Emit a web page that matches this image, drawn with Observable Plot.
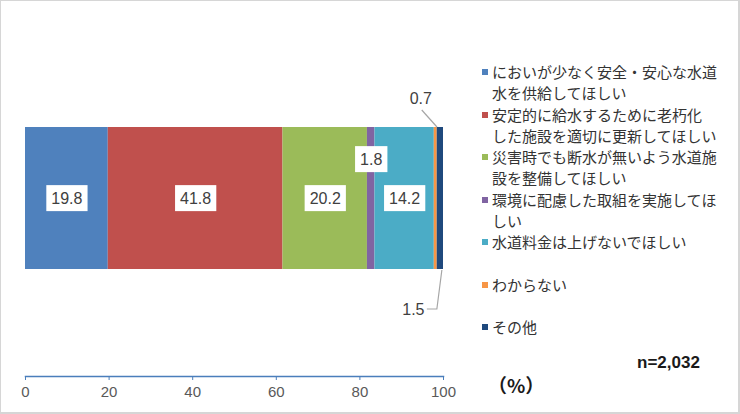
<!DOCTYPE html>
<html>
<head>
<meta charset="utf-8">
<script src="https://cdn.jsdelivr.net/npm/d3@7"></script>
<script src="https://cdn.jsdelivr.net/npm/@observablehq/plot@0.6"></script>
<style>
  body { margin: 0; background: #fff; }
  #wrap { position: relative; width: 740px; height: 414px; overflow: hidden; background: #fff;
          font-family: "Noto Sans CJK JP", sans-serif; }
  #frame { position: absolute; left: 0; top: 0; width: 740px; height: 414px; box-sizing: border-box;
           border: 1px solid #d6d6d6; border-right-width: 2px; border-bottom-width: 2px; pointer-events: none; }
  #legend { position: absolute; left: 482px; top: 61px; }
  .item { display: flex; align-items: flex-start; height: 42.5px; }
  .sw { width: 6px; height: 6px; margin-top: 8px; margin-right: 4px; flex: none; }
  .lab { font-size: 15px; line-height: 21px; color: #333333; white-space: pre; }
  #n { position: absolute; left: 637px; top: 353px; font: bold 17px "Liberation Sans", sans-serif; color: #1a1a1a; }
  #unit { position: absolute; left: 488px; top: 371px; font: bold 19px "Noto Sans CJK JP", sans-serif; color: #1a1a1a; }
</style>
</head>
<body>
<div id="wrap">
  <div id="chart"></div>
  <div id="legend"></div>
  <div id="n"></div>
  <div id="unit"></div>
  <div id="frame"></div>
</div>
<script>
// ---- data ----
const categories = [
  "においが少なく安全・安心な水道水を供給してほしい",
  "安定的に給水するために老朽化した施設を適切に更新してほしい",
  "災害時でも断水が無いよう水道施設を整備してほしい",
  "環境に配慮した取組を実施してほしい",
  "水道料金は上げないでほしい",
  "わからない",
  "その他"
];
const values = [19.8, 41.8, 20.2, 1.8, 14.2, 0.7, 1.5];
const xTicks = [0, 20, 40, 60, 80, 100];
const sampleNote = "n=2,032";
const unitNote = "（%）";

// ---- styling / layout (not data) ----
const colors = ["#4f81bd", "#c0504d", "#9bbb59", "#8064a2", "#4bacc6", "#f79646", "#1f497d"];
const legendBreaks = [15, 14, 15, 15, null, null, null]; // legend line-wrap positions
const numFont = "'Liberation Sans', sans-serif";

const starts = values.map((v, i) => d3.sum(values.slice(0, i)));
const rows = categories.map((c, i) => ({
  category: c, value: values[i], start: starts[i], end: starts[i] + values[i],
  mid: starts[i] + values[i] / 2, label: values[i].toFixed(1), idx: i
}));

const inside = rows.filter(d => [0, 1, 2, 4].includes(d.idx));
const lifted = rows.filter(d => d.idx === 3);
const small07 = rows.filter(d => d.idx === 5);
const small15 = rows.filter(d => d.idx === 6);

// leader lines drawn with the plot's scales
function leaders(index, scales) {
  const g = d3.create("svg:g").attr("fill", "none").attr("stroke", "#a6a6a6").attr("stroke-width", 1.2);
  const top = scales.y("all"), bottom = top + scales.y.bandwidth();
  const xa = scales.x(small07[0].mid);
  g.append("path").attr("d", `M${xa + 1.7},${top}L${xa - 13.5},${top - 17}`);
  const xb = scales.x(small15[0].mid);
  g.append("path").attr("d", `M${xb + 2},${bottom + 1}L${xb - 3},${bottom + 40}L${xb - 13},${bottom + 40}`);
  return g.node();
}

const labelStyle = { text: "label", fill: "#404040", fontSize: 16, fontFamily: numFont };

const plot = Plot.plot({
  width: 740, height: 414,
  marginLeft: 25, marginRight: 297, marginTop: 0, marginBottom: 38,
  style: { background: "transparent", fontFamily: numFont, overflow: "visible" },
  x: { domain: [0, 100] },
  y: { domain: ["all"], range: [127, 269], padding: 0, axis: null },
  color: { domain: categories, range: colors },
  marks: [
    Plot.barX(rows, { x1: "start", x2: "end", y: () => "all", fill: "category" }),
    Plot.frame({ anchor: "bottom", stroke: "#4a7ebb", strokeWidth: 1.5 }),
    Plot.axisX({ ticks: xTicks, tickSize: 4, tickPadding: 6, stroke: "#4a7ebb", fill: "#595959",
                 fontSize: 15, fontFamily: numFont, tickFormat: d => String(d) }),
    Plot.text(inside, { x: "mid", y: () => "all", ...labelStyle, className: "boxed" }),
    Plot.text(lifted, { x: "mid", y: () => "all", ...labelStyle, dy: -39, className: "boxed" }),
    Plot.text(small07, { x: "mid", y: () => "all", ...labelStyle, dx: -15, dy: -100 }),
    Plot.text(small15, { x: "mid", y: () => "all", ...labelStyle, dx: -27, dy: 111 }),
    leaders
  ]
});
document.getElementById("chart").appendChild(plot);

// white boxes behind in-bar labels
d3.select(plot).selectAll("g.boxed text").each(function () {
  const b = this.getBBox();
  const padX = 5;
  const r = document.createElementNS("http://www.w3.org/2000/svg", "rect");
  r.setAttribute("x", b.x - padX);
  r.setAttribute("y", b.y + b.height / 2 - 13);
  r.setAttribute("width", b.width + 2 * padX);
  r.setAttribute("height", 26);
  r.setAttribute("fill", "#ffffff");
  if (this.getAttribute("transform")) r.setAttribute("transform", this.getAttribute("transform"));
  this.parentNode.insertBefore(r, this);
});

// legend
const legend = d3.select("#legend");
categories.forEach((c, i) => {
  const item = legend.append("div").attr("class", "item");
  item.append("div").attr("class", "sw").style("background", colors[i]);
  const br = legendBreaks[i];
  item.append("div").attr("class", "lab").text(br ? c.slice(0, br) + "\n" + c.slice(br) : c);
});
document.getElementById("n").textContent = sampleNote;
document.getElementById("unit").textContent = unitNote;
</script>
</body>
</html>
